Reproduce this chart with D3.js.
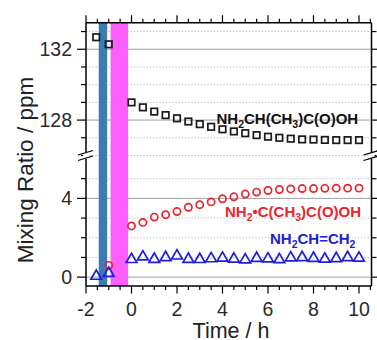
<!DOCTYPE html>
<html><head><meta charset="utf-8">
<script src="https://cdn.jsdelivr.net/npm/d3@7"></script>
<style>body{margin:0;background:#fff}svg{display:block}text{font-family:"Liberation Sans",Arial,sans-serif}</style>
</head><body><svg id="c" width="377" height="340"></svg>
<script>
// ---------- data ----------
const preTime = [-1.55, -1.0];
const time = [0,0.5,1,1.5,2,2.5,3,3.5,4,4.5,5,5.5,6,6.5,7,7.5,8,8.5,9,9.5,10];
const alaninePre = [132.68, 132.28];
const alanine = [129.0,128.72,128.48,128.28,128.1,127.92,127.77,127.62,127.48,127.36,127.26,127.15,127.06,127.0,126.95,126.91,126.9,126.88,126.87,126.87,126.87];
const radicalPreTime = [-1.0];
const radicalPre = [0.6];
const radical = [2.6,2.78,3.05,3.17,3.33,3.55,3.68,3.82,3.98,4.08,4.22,4.32,4.4,4.45,4.48,4.5,4.5,4.51,4.52,4.52,4.52];
const vinylPre = [0.05, 0.2];
const vinyl = [0.9,1.03,0.91,1.0,1.08,0.91,0.9,0.94,0.97,0.92,0.88,0.96,0.93,0.89,0.98,1.0,0.96,0.92,0.95,1.0,0.97];
const xTicks = [-2,0,2,4,6,8,10];
const xMinor = [-1.5,-1,-0.5,0.5,1,1.5,2.5,3,3.5,4.5,5,5.5,6.5,7,7.5,8.5,9,9.5,10.5];
const upperMajor = [128,132];
const upperMinor = [126,127,129,130,131,133];
const lowerMajor = [0,4];
const lowerMinor = [1,2,3,5];
const bandStart = [-1.44,-0.92];
const bandEnd = [-1.07,-0.15];
const bandColor = ["#3c7cb4","#ff5eff"];
const xTitle = "Time / h";
const yTitle = "Mixing Ratio / ppm";
const labelAla = [["NH",0],["2",1],["CH(CH",0],["3",1],[")C(O)OH",0]];
const labelRad = [["NH",0],["2",1],["\u2022C(CH",0],["3",1],[")C(O)OH",0]];
const labelVin = [["NH",0],["2",1],["CH=CH",0],["2",1]];

// ---------- layout ----------
const svg = d3.select("#c");
const L = 86, R = 371.5, T = 22.7, B = 286;
const x = d3.scaleLinear().domain([-2,10.55]).range([L,R]);
const yU = d3.scaleLinear().domain([126,133.5]).range([155.5,T]);
const yL = d3.scaleLinear().domain([-0.45,6]).range([B,159]);

// gridlines
function grid(vals, sc, dotted){
  svg.append("g").selectAll("line").data(vals).join("line")
    .attr("x1",L).attr("x2",R).attr("y1",d=>sc(d)).attr("y2",d=>sc(d))
    .attr("stroke", dotted?"#b8b8b8":"#a0a0a0").attr("stroke-width",1)
    .attr("stroke-dasharray", dotted?"1.2,2":null);
}
grid(upperMinor,yU,true); grid(lowerMinor,yL,true);
grid(upperMajor,yU,false); grid(lowerMajor,yL,false);

// bands
svg.append("g").selectAll("rect").data(bandStart).join("rect")
  .attr("x",(d)=>x(d)).attr("width",(d,i)=>x(bandEnd[i])-x(d))
  .attr("y",T).attr("height",B-T).attr("fill",(d,i)=>bandColor[i]);

// axes frame
const ax = svg.append("g").attr("stroke","#000").attr("stroke-width",1.5);
ax.append("line").attr("x1",L).attr("x2",R).attr("y1",T).attr("y2",T);
ax.append("line").attr("x1",L).attr("x2",R).attr("y1",B).attr("y2",B);
ax.append("line").attr("x1",L).attr("x2",L).attr("y1",T).attr("y2",152);
ax.append("line").attr("x1",L).attr("x2",L).attr("y1",159).attr("y2",B);
ax.append("line").attr("x1",R).attr("x2",R).attr("y1",T).attr("y2",152);
ax.append("line").attr("x1",R).attr("x2",R).attr("y1",159).attr("y2",B);

// x ticks (bottom & top, outward)
const tk = svg.append("g").attr("stroke","#000").attr("stroke-width",1.2);
function xt(vals,len){
  vals.forEach(v=>{
    tk.append("line").attr("x1",x(v)).attr("x2",x(v)).attr("y1",B).attr("y2",B+len);
    tk.append("line").attr("x1",x(v)).attr("x2",x(v)).attr("y1",T).attr("y2",T-len);
  });
}
xt(xTicks,7.5); xt(xMinor,4);
function yt(vals,sc,len,rlen){
  vals.forEach(v=>{
    tk.append("line").attr("x1",L-len).attr("x2",L).attr("y1",sc(v)).attr("y2",sc(v));
    tk.append("line").attr("x1",R).attr("x2",R+rlen).attr("y1",sc(v)).attr("y2",sc(v));
  });
}
yt(upperMajor,yU,9,7); yt(upperMinor,yU,5,5);
yt(lowerMajor,yL,9,7); yt(lowerMinor,yL,5,5);

// break marks
function brk(cx){
  const g = svg.append("g");
  g.append("rect").attr("x",cx-3).attr("y",152).attr("width",6).attr("height",7).attr("fill","#fff");
  g.append("line").attr("x1",cx-8).attr("y1",155).attr("x2",cx+7).attr("y2",150.5).attr("stroke","#000").attr("stroke-width",1.3);
  g.append("line").attr("x1",cx-8).attr("y1",160.5).attr("x2",cx+7).attr("y2",156).attr("stroke","#000").attr("stroke-width",1.3);
}
brk(L); brk(R);

// tick labels
const tl = svg.append("g").attr("fill","#2a2a2a").attr("font-size",19.5);
tl.selectAll(".xl").data(xTicks).join("text").attr("x",d=>x(d)).attr("y",316)
  .attr("text-anchor","middle").text(d=>d<0?"-"+Math.abs(d):d);
tl.selectAll(".yu").data(upperMajor).join("text").attr("x",72).attr("y",d=>yU(d)+7)
  .attr("text-anchor","end").text(d=>d);
tl.selectAll(".yl").data(lowerMajor).join("text").attr("x",72).attr("y",d=>yL(d)+7)
  .attr("text-anchor","end").text(d=>d);

// titles
svg.append("text").attr("x",231).attr("y",338).attr("text-anchor","middle")
  .attr("font-size",21.5).attr("fill","#222").text(xTitle);
svg.append("text").attr("transform","translate(33,170) rotate(-90)").attr("text-anchor","middle")
  .attr("font-size",22.5).attr("fill","#222").text(yTitle);

// markers
const sq = 6.5;
const sqData = preTime.map((t,i)=>[t,alaninePre[i]]).concat(time.map((t,i)=>[t,alanine[i]]));
svg.append("g").selectAll("rect").data(sqData).join("rect")
  .attr("x",d=>x(d[0])-sq/2).attr("y",d=>yU(d[1])-sq/2).attr("width",sq).attr("height",sq)
  .attr("fill","none").attr("stroke","#1a1a1a").attr("stroke-width",1.7);
const ciData = radicalPreTime.map((t,i)=>[t,radicalPre[i]]).concat(time.map((t,i)=>[t,radical[i]]));
svg.append("g").selectAll("circle").data(ciData).join("circle")
  .attr("cx",d=>x(d[0])).attr("cy",d=>yL(d[1])).attr("r",3.6)
  .attr("fill","none").attr("stroke","#e8262e").attr("stroke-width",1.7);
const trData = preTime.map((t,i)=>[t,vinylPre[i]]).concat(time.map((t,i)=>[t,vinyl[i]]));
const tri = d3.symbol().type(d3.symbolTriangle).size(50);
svg.append("g").selectAll("path").data(trData).join("path")
  .attr("transform",d=>`translate(${x(d[0])},${yL(d[1])})`).attr("d",tri)
  .attr("fill","none").attr("stroke","#1f1fd6").attr("stroke-width",1.7);

// species labels
function label(parts,x0,y0,color){
  const t = svg.append("text").attr("x",x0).attr("y",y0).attr("fill",color)
    .attr("font-weight","bold").attr("font-size",15);
  let sub=false;
  parts.forEach(p=>{
    const s = t.append("tspan").text(p[0]);
    if(p[1] && !sub){ s.attr("dy",4).attr("font-size",10.5); sub=true; }
    else if(p[1]){ s.attr("font-size",10.5); }
    else if(sub){ s.attr("dy",-4); sub=false; }
  });
}
label(labelAla,216.5,124,"#111");
label(labelRad,225,217,"#e8262e");
label(labelVin,270,243.5,"#2222cc");
</script></body></html>
